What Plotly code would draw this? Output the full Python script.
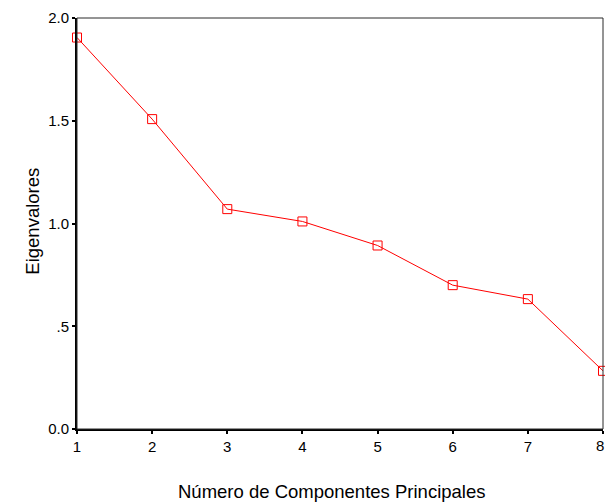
import plotly.graph_objects as go

componentes = [1, 2, 3, 4, 5, 6, 7, 8]
eigenvalores = [1.905, 1.508, 1.07, 1.01, 0.893, 0.70, 0.632, 0.283]
y_ticks = [0.0, 0.5, 1.0, 1.5, 2.0]
y_labels = ["0.0", ".5", "1.0", "1.5", "2.0"]
x_labels = [str(c) for c in componentes]

FONT = "Liberation Sans, Arial, sans-serif"

fig = go.Figure()
fig.add_trace(go.Scatter(
    x=componentes, y=eigenvalores, mode="lines+markers",
    line=dict(color="#ff0000", width=1),
    marker=dict(symbol="square-open", size=9, color="#ff0000", line=dict(width=1)),
    cliponaxis=False, showlegend=False))

# thin frame on top/right
fig.add_shape(type="rect", xref="paper", yref="paper", x0=0, y0=0, x1=1, y1=1,
              line=dict(color="#2a2a2a", width=1))

fig.update_layout(
    width=605, height=502,
    margin=dict(l=77, r=2, t=18, b=73),
    paper_bgcolor="white", plot_bgcolor="white",
    font=dict(family=FONT, size=15, color="black"),
    xaxis=dict(range=[1, 8], tickvals=componentes, ticktext=x_labels[:-1] + [""],
               showgrid=False, zeroline=False,
               showline=True, linecolor="black", linewidth=2,
               ticks="outside", ticklen=3, tickwidth=2, tickcolor="black"),
    yaxis=dict(range=[0, 2], tickvals=y_ticks, ticktext=y_labels, showgrid=False,
               zeroline=False, showline=True, linecolor="black", linewidth=2,
               ticks="outside", ticklen=3, tickwidth=2, tickcolor="black"),
    annotations=[
        # last x label sits on the window edge; placed by hand, nudged to stay visible
        dict(text=x_labels[-1], xref="x", yref="paper", x=componentes[-1], y=0,
             xshift=-3, yshift=-6, yanchor="top", showarrow=False, font=dict(size=15)),
        dict(text="Número de Componentes Principales", xref="paper", yref="paper",
             x=0.484, y=-0.151, yanchor="middle", showarrow=False, font=dict(size=18.5)),
        dict(text="Eigenvalores", xref="paper", yref="paper", x=-0.110, y=0.506,
             textangle=-90, showarrow=False, font=dict(size=18.5)),
    ],
)

# drop the default body margin so the figure fills the window exactly
fig.write_html("out.html", config={"displayModeBar": False},
               post_script="document.body.style.margin='0';document.body.style.overflow='hidden';")
